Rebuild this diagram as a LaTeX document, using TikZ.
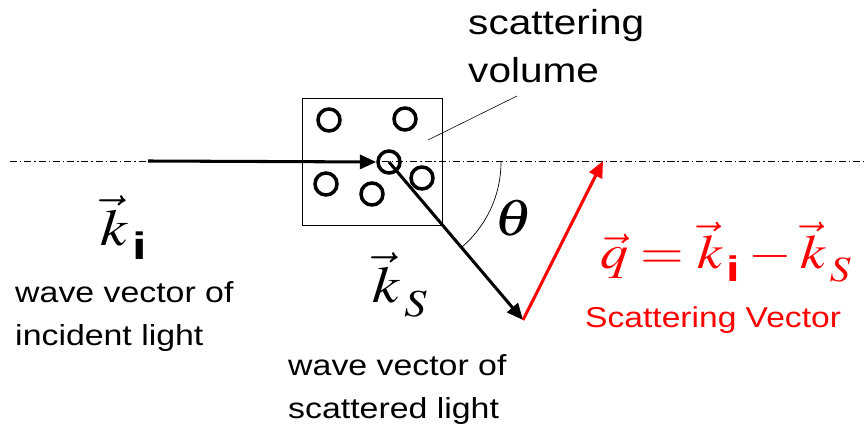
\documentclass[tikz,border=0pt]{standalone}
\usepackage{amsmath}
\usepackage{mathptmx}
\usepackage[no-math]{fontspec}
\setmainfont{Liberation Sans}[FakeStretch=1.17]
\usetikzlibrary{arrows.meta}

\newcommand{\subi}{_{\,\text{\raisebox{-0.18em}{\bfseries i}}}}
\newcommand{\subs}{_{\,\text{\raisebox{-0.18em}{$S$}}}}

\begin{document}
\begin{tikzpicture}[
  x=0.03cm, y=-0.03cm,
  >={Triangle[length=14pt,width=12pt]},
  axis/.style={line width=0.6pt, dash pattern=on 6pt off 2.5pt on 1.2pt off 2.5pt},
  beam/.style={->, line width=2.6pt},
  qvec/.style={->, line width=2.6pt, red},
  particle/.style={draw, circle, line width=3pt, minimum size=0.66cm, inner sep=0pt},
  volbox/.style={draw, line width=0.8pt, minimum width=4.2cm, minimum height=3.81cm, inner sep=0pt},
  txt/.style={font=\fontsize{24.7}{36.7}\selectfont, align=left, inner sep=0pt},
  mathlbl/.style={font=\fontsize{44}{44}\selectfont, inner sep=0pt, xscale=1.17, transform shape}
]
  \useasboundingbox (0,0) rectangle (864,425);

  % scattering volume with particles
  \node[volbox] (box) at (372,161.5) {};
  \node[particle] (p1) at (329,120) {};
  \node[particle] (p2) at (405,119) {};
  \node[particle] (pc) at (389,162) {};
  \node[particle] (p4) at (326,184) {};
  \node[particle] (p5) at (372,194) {};
  \node[particle] (p6) at (422,178) {};

  \coordinate (lft) at (10,161);
  \coordinate (rgt) at (864,161);
  \coordinate (src) at (148,161);
  \coordinate (tipS) at (523,320);
  \coordinate (tipQ) at (603,161);
  \coordinate (volpt) at (428,140);
  \coordinate (lead) at (517,96);

  \draw[axis] (lft) -- (rgt);
  \draw[beam] (src) -- (pc.west);
  \draw[beam] (pc.center) -- (tipS);
  \draw[qvec] (tipS) -- (tipQ);
  \draw[line width=0.6pt] (pc.center) ++(112,0) arc[start angle=0, end angle=49.5, radius=112];
  \draw[line width=0.5pt] (volpt) -- (lead);

  % labels
  \node[txt, anchor=base west, font=\fontsize{29.6}{41}\selectfont] (vol) at (468,83) {scattering\\volume};
  \node[mathlbl] (theta) at (514,218) {$\theta$};
  \node[mathlbl, anchor=base west] (ki) at (100,245) {$\vec{k}\subi$};
  \node[mathlbl, anchor=base west] (ks) at (372,302) {$\vec{k}\subs$};
  \node[mathlbl, red, font=\fontsize{41}{42}\selectfont, anchor=base west] (eq) at (600,268) {$\vec{q}=\vec{k}\subi-\vec{k}\subs$};
  \node[txt, anchor=base west] (inc) at (15,345) {wave vector of\\incident light};
  \node[txt, anchor=base west] (sca) at (288,418) {wave vector of\\scattered light};
  \node[txt, red, anchor=base west, font=\fontsize{24.5}{30}\selectfont] (qlbl) at (585,327) {Scattering Vector};
\end{tikzpicture}
\end{document}
